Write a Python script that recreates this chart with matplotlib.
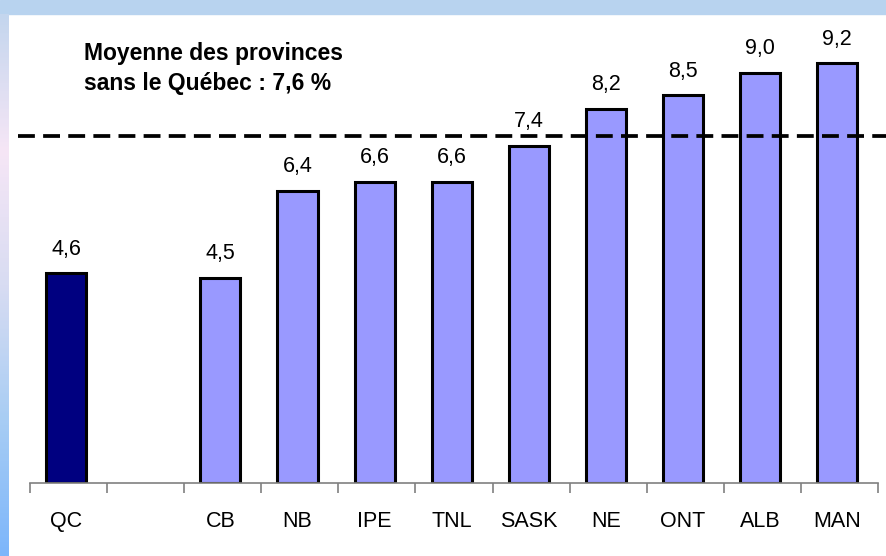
import numpy as np
import matplotlib.pyplot as plt
from matplotlib.colors import LinearSegmentedColormap
from matplotlib.patches import Rectangle

# data
provinces = ["QC", "", "CB", "NB", "IPE", "TNL", "SASK", "NE", "ONT", "ALB", "MAN"]
values = [4.6, np.nan, 4.5, 6.4, 6.6, 6.6, 7.4, 8.2, 8.5, 9.0, 9.2]
labels = ["4,6", "", "4,5", "6,4", "6,6", "6,6", "7,4", "8,2", "8,5", "9,0", "9,2"]
moyenne = 7.6

plt.rcParams['font.family'] = ['Liberation Sans', 'DejaVu Sans']

W, H = 886, 556
fig = plt.figure(figsize=(W / 100, H / 100), dpi=100)
fig.patch.set_facecolor("white")

# frame strips (top + left gradient)
fig.add_artist(Rectangle((0, 1 - 14 / H), 1, 14 / H, transform=fig.transFigure,
                         color="#b8d3ef", zorder=0))
bg = fig.add_axes([0, 0, 9 / W, 1 - 14 / H])
cmap = LinearSegmentedColormap.from_list("strip", ["#7db6fb", "#a8cdf4", "#d8dcf2", "#f6e6f6", "#c4d6ee"])
bg.imshow(np.linspace(0, 1, 200).reshape(-1, 1), aspect="auto", cmap=cmap, origin="lower")
bg.axis("off")

ax = fig.add_axes([30 / W, (H - 483) / H, 848 / W, 456 / H])
x = np.arange(len(provinces))
colors = ["#000080"] + ["#9999ff"] * (len(provinces) - 1)
ax.bar(x - 0.03, values, width=0.52, color=colors, edgecolor="black", linewidth=2.2, zorder=2)

for xi, v, lab in zip(x, values, labels):
    if lab:
        ax.text(xi - 0.03, v + 0.3, lab, ha="center", va="bottom", fontsize=15.5)

ax.set_xlim(-0.5, len(provinces) - 0.5)
ax.set_ylim(0, 10)
ax.set_yticks([])
ax.set_xticks(x - 0.03)
ax.set_xticklabels(provinces, fontsize=15.5)
ax.tick_params(axis="x", which="major", length=0, pad=20)
ax.set_xticks(np.arange(-0.5, len(provinces)), minor=True)
ax.tick_params(axis="x", which="minor", length=7, color="#808080", width=1.2)
for s in ["top", "left", "right"]:
    ax.spines[s].set_visible(False)
ax.spines["bottom"].set_color("#808080")
ax.spines["bottom"].set_linewidth(1.2)

# dashed average line across the whole panel
y_line = ax.transData.transform((0, moyenne))[1] / fig.dpi / fig.get_figheight()
fig.add_artist(plt.Line2D([18 / W, 1], [y_line, y_line], transform=fig.transFigure,
                          color="black", linestyle=(0, (4.5, 2.2)), linewidth=2.7))

ax.text(0.2, 9.68, "Moyenne des provinces\nsans le Québec : 7,6 %", fontsize=16.5,
        fontweight="bold", va="top", ha="left", linespacing=1.4)

fig.savefig("out.png", dpi=100)
